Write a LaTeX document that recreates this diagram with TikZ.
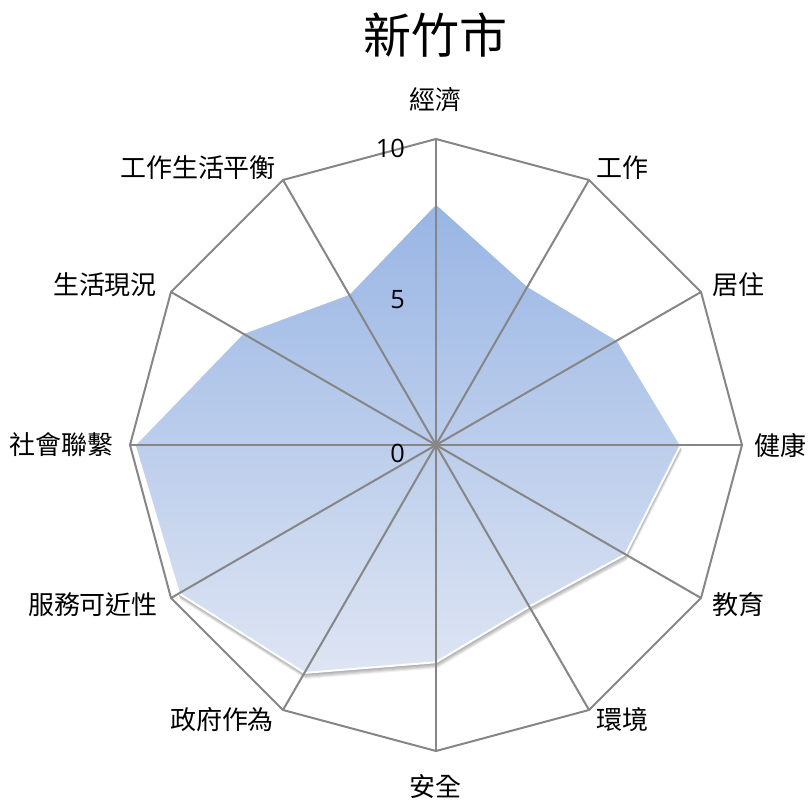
\documentclass[tikz,border=0pt]{standalone}
\usepackage{fontspec}
\newfontfamily\cjk{Noto Sans CJK TC}
\newfontfamily\numfont{Open Sans}
\definecolor{gridgray}{RGB}{134,134,134}
\definecolor{filltop}{RGB}{152,181,228}
\definecolor{fillbot}{RGB}{222,229,243}

\begin{document}
\begin{tikzpicture}[x=0.75pt,y=0.75pt,
  spoke/.style={draw=gridgray,line width=1.5pt},
  shadowlayer/.style={fill=black,opacity=0.07},
  axislabel/.style={font=\cjk\fontsize{19.5}{22}\selectfont,inner sep=0pt},
  ticklabel/.style={font=\numfont\fontsize{19}{22}\selectfont,anchor=east,inner sep=0pt}]
  \useasboundingbox (0,0) rectangle (808,800);
  \coordinate (Origin) at (436,355);

  % axes: index / value / label / label position
  \foreach \i/\val/\txt/\lx/\ly in {
      0/7.9/經濟/435/700,
      1/6.0/工作/622/632,
      2/6.85/居住/738/515,
      3/8.0/健康/780/355,
      4/7.15/教育/738/195,
      5/6.1/環境/622/80,
      6/7.1/安全/435/13,
      7/8.6/政府作為/222/80,
      8/9.7/服務可近性/93/195,
      9/9.85/社會聯繫/62/355,
      10/7.3/生活現況/105/515,
      11/5.7/工作生活平衡/198/632}
    {
    \coordinate (v\i) at ([shift={(90-30*\i:306)}]Origin);
    \coordinate (d\i) at ([shift={(90-30*\i:30.6*\val)}]Origin);
    \node[axislabel] (lab\i) at (\lx,\ly) {\txt};
    }

  % soft shadow under the data area
  \foreach \k in {1,...,6}
    {
    \begin{scope}[transform canvas={shift={(0.15*\k pt,-0.75*\k pt)}}]
      \fill[shadowlayer] (d0) \foreach \i in {1,...,11}{-- (d\i)} -- cycle;
    \end{scope}
    }

  % data area
  \path[top color=filltop,bottom color=fillbot,draw=white,line width=1.5pt]
    (d0) \foreach \i in {1,...,11}{-- (d\i)} -- cycle;

  % grid
  \foreach \i in {0,...,11}
    \draw[spoke] (Origin) -- (v\i);
  \draw[spoke,line join=miter] (v0) \foreach \i in {1,...,11}{-- (v\i)} -- cycle;

  \node[ticklabel] (t10) at (405,652) {10};
  \node[ticklabel] (t5) at (405,500) {5};
  \node[ticklabel] (t0) at (405,347) {0};

  \node[font=\cjk\fontsize{36}{40}\selectfont,inner sep=0pt] (title) at (435,765) {新竹市};
\end{tikzpicture}
\end{document}
